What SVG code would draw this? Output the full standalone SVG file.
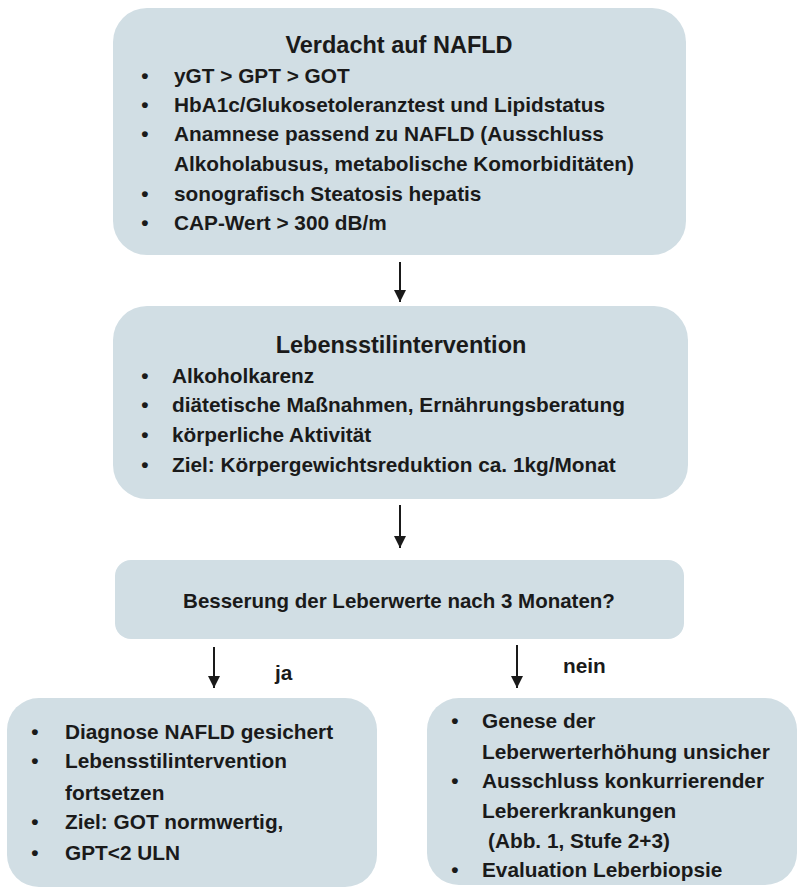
<svg xmlns="http://www.w3.org/2000/svg" width="799" height="888" viewBox="0 0 799 888">
<style>
.box{fill:#d1dee4;}
text{font-family:"Liberation Sans",Arial,sans-serif;font-weight:bold;fill:#1a1a1a;}
.t{font-size:23.5px;text-anchor:middle;}
.b{font-size:20.8px;}
.d{font-size:20.8px;text-anchor:middle;}
.c{stroke:#1a1a1a;stroke-width:2;fill:none;}
</style>
<defs>
<marker id="ah" viewBox="0 0 12 12" refX="12" refY="6" markerWidth="12" markerHeight="12" markerUnits="userSpaceOnUse" orient="auto">
<path d="M0,0 L12,6 L0,12 Z" fill="#1a1a1a"/>
</marker>
</defs>
<rect width="799" height="888" fill="#ffffff"/>
<g id="connectors">
<line class="c" x1="400" y1="262" x2="400" y2="302" marker-end="url(#ah)"/>
<line class="c" x1="400" y1="505" x2="400" y2="548" marker-end="url(#ah)"/>
<line class="c" x1="214" y1="647" x2="214" y2="688" marker-end="url(#ah)"/>
<line class="c" x1="517" y1="645" x2="517" y2="688" marker-end="url(#ah)"/>
<text class="b" x="275" y="680">ja</text>
<text class="b" x="563" y="673">nein</text>
</g>
<g id="verdacht">
<rect class="box" x="113" y="8" width="573" height="247" rx="34"/>
<text class="t" x="399" y="53">Verdacht auf NAFLD</text>
<text class="d" x="145" y="83">•</text><text class="b" x="174" y="83">yGT &gt; GPT &gt; GOT</text>
<text class="d" x="145" y="112">•</text><text class="b" x="174" y="112">HbA1c/Glukosetoleranztest und Lipidstatus</text>
<text class="d" x="145" y="141">•</text><text class="b" x="174" y="141">Anamnese passend zu NAFLD (Ausschluss</text>
<text class="b" x="174" y="171">Alkoholabusus, metabolische Komorbiditäten)</text>
<text class="d" x="145" y="201">•</text><text class="b" x="174" y="201">sonografisch Steatosis hepatis</text>
<text class="d" x="145" y="230">•</text><text class="b" x="174" y="230">CAP-Wert &gt; 300 dB/m</text>
</g>
<g id="lebensstil">
<rect class="box" x="113" y="306" width="575" height="193" rx="34"/>
<text class="t" x="401" y="353">Lebensstilintervention</text>
<text class="d" x="145" y="383">•</text><text class="b" x="172" y="383">Alkoholkarenz</text>
<text class="d" x="145" y="412">•</text><text class="b" x="172" y="412">diätetische Maßnahmen, Ernährungsberatung</text>
<text class="d" x="145" y="442">•</text><text class="b" x="172" y="442">körperliche Aktivität</text>
<text class="d" x="145" y="472">•</text><text class="b" x="172" y="472">Ziel: Körpergewichtsreduktion ca. 1kg/Monat</text>
</g>
<g id="besserung">
<rect class="box" x="115" y="560" width="569" height="79" rx="16"/>
<text class="d" x="399" y="608" style="font-size:20.5px">Besserung der Leberwerte nach 3 Monaten?</text>
</g>
<g id="ja-box">
<rect class="box" x="7" y="698" width="370" height="189" rx="32"/>
<text class="d" x="35" y="739">•</text><text class="b" x="65" y="739">Diagnose NAFLD gesichert</text>
<text class="d" x="35" y="768">•</text><text class="b" x="65" y="768">Lebensstilintervention</text>
<text class="b" x="65" y="800">fortsetzen</text>
<text class="d" x="35" y="829">•</text><text class="b" x="65" y="829">Ziel: GOT normwertig,</text>
<text class="d" x="35" y="860">•</text><text class="b" x="65" y="860">GPT&lt;2 ULN</text>
</g>
<g id="nein-box">
<rect class="box" x="427" y="698" width="370" height="187" rx="32"/>
<text class="d" x="455" y="728">•</text><text class="b" x="482" y="728">Genese der</text>
<text class="b" x="482" y="759">Leberwerterhöhung unsicher</text>
<text class="d" x="455" y="788">•</text><text class="b" x="482" y="788">Ausschluss konkurrierender</text>
<text class="b" x="482" y="818">Lebererkrankungen</text>
<text class="b" x="488" y="848">(Abb. 1, Stufe 2+3)</text>
<text class="d" x="455" y="877">•</text><text class="b" x="482" y="877">Evaluation Leberbiopsie</text>
</g>
</svg>
